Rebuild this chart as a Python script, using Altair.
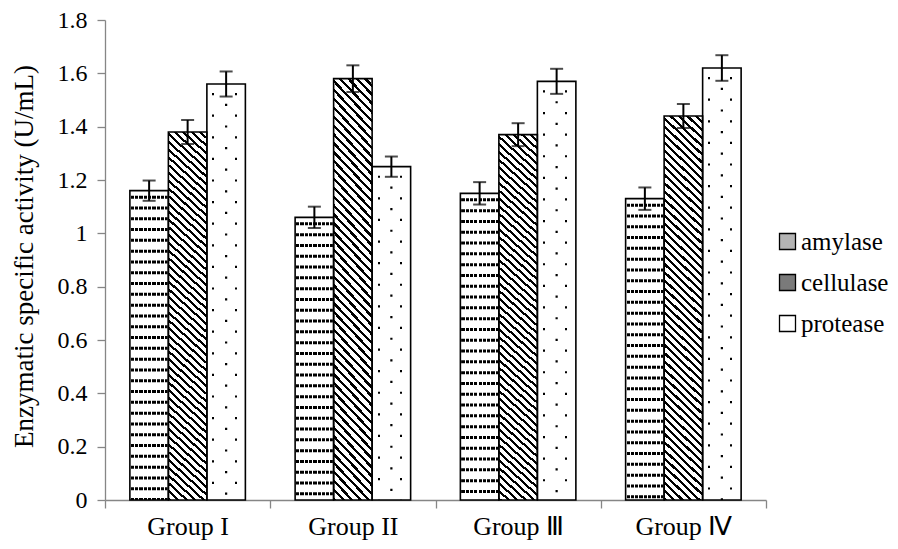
import altair as alt
import pandas as pd

# ---- data ----
groups = ["Group I", "Group II", "Group Ⅲ", "Group Ⅳ"]
enzymes = ["amylase", "cellulase", "protease"]
amylase = [1.16, 1.06, 1.15, 1.13]
cellulase = [1.38, 1.58, 1.37, 1.44]
protease = [1.56, 1.25, 1.57, 1.62]
amylase_err = [0.038, 0.040, 0.042, 0.042]
cellulase_err = [0.045, 0.050, 0.043, 0.045]
protease_err = [0.047, 0.038, 0.047, 0.048]
y_ticks = [0, 0.2, 0.4, 0.6, 0.8, 1, 1.2, 1.4, 1.6, 1.8]

rows = []
for name, vals, errs in [("amylase", amylase, amylase_err),
                         ("cellulase", cellulase, cellulase_err),
                         ("protease", protease, protease_err)]:
    for g, v, e in zip(groups, vals, errs):
        rows.append({"group": g, "enzyme": name, "value": v,
                     "lo": round(v - e, 4), "hi": round(v + e, 4)})
df = pd.DataFrame(rows)

FONT = "Liberation Serif"
GRAY = "#868686"
CLEAR = "rgba(0,0,0,0)"


def stripe_stops(n, frac, on, off=CLEAR):
    stops = []
    for i in range(n):
        a = i / n
        b = (i + frac) / n
        c = (i + 1) / n
        stops += [{"offset": round(a, 5), "color": on},
                  {"offset": round(b, 5), "color": on},
                  {"offset": round(b, 5), "color": off},
                  {"offset": round(c, 5), "color": off}]
    return stops


# diagonal hatch for cellulase, in bounding-box units
r = 10.4
k = (1 + r) / (1 + r * r)
diag_grad = {"gradient": "linear", "x1": 0, "y1": 1, "x2": round(k, 5),
             "y2": round(1 - k * r, 5), "stops": stripe_stops(52, 0.38, "#000000")}

# column mask for the amylase rows (makes them dotted)
amy_mask = {"gradient": "linear", "x1": 0, "y1": 0, "x2": 1, "y2": 0,
            "stops": stripe_stops(9, 0.24, "#ffffff")}

# column mask for protease dots: white except two narrow gaps
pro_mask = {"gradient": "linear", "x1": 0, "y1": 0, "x2": 1, "y2": 0,
            "stops": [{"offset": 0, "color": "#ffffff"},
                      {"offset": 0.14, "color": "#ffffff"},
                      {"offset": 0.14, "color": CLEAR},
                      {"offset": 0.195, "color": CLEAR},
                      {"offset": 0.195, "color": "#ffffff"},
                      {"offset": 0.72, "color": "#ffffff"},
                      {"offset": 0.72, "color": CLEAR},
                      {"offset": 0.775, "color": CLEAR},
                      {"offset": 0.775, "color": "#ffffff"},
                      {"offset": 1, "color": "#ffffff"}]}

x_axis = alt.Axis(title=None, labelAngle=0, labelFont=FONT, labelFontSize=26,
                  labelColor="black", labelPadding=5, tickBand="extent",
                  tickSize=8, tickColor=GRAY, tickWidth=1.3, domainColor=GRAY,
                  domainWidth=1.3, grid=False)
y_axis = alt.Axis(values=y_ticks, format="~g", labelFont=FONT, labelFontSize=24,
                  labelColor="black", labelPadding=10, tickSize=8, tickColor=GRAY,
                  tickWidth=1.3, domainColor=GRAY, domainWidth=1.3, grid=False,
                  titleFont=FONT, titleFontSize=27, titleFontWeight="normal",
                  titleColor="black", titleX=-67, titleY=236, titleAngle=270,
                  titleBaseline="bottom", titleAlign="center")
Y_TITLE = "Enzymatic specific activity (U/mL)"

X = alt.X("group:N", scale=alt.Scale(domain=groups, paddingInner=0, paddingOuter=0),
          axis=x_axis)
XO = alt.XOffset("enzyme:N", scale=alt.Scale(domain=enzymes, paddingInner=0,
                                            paddingOuter=0.646))
y_scale = alt.Scale(domain=[0, 1.8], nice=False, zero=True)


def Y(field):
    return alt.Y(field + ":Q", scale=y_scale, axis=y_axis, title=Y_TITLE)


base = alt.Chart(df)

legend_bars = base.mark_bar(strokeWidth=0).encode(
    x=X, xOffset=XO, y=Y("value"),
    fill=alt.Fill("enzyme:N",
                  scale=alt.Scale(domain=enzymes, range=["#b4b4b4", "#7a7a7a", "#ffffff"]),
                  legend=alt.Legend(title=None, orient="none", legendX=670, legendY=209,
                                    symbolType="square", symbolSize=256,
                                    symbolStrokeColor="black", symbolStrokeWidth=1.3,
                                    symbolOpacity=1, labelFont=FONT, labelFontSize=25,
                                    labelColor="black", rowPadding=15, labelOffset=1,
                                    padding=0, labelLimit=200)))

white_bars = base.mark_bar(fill="white", strokeWidth=0).encode(x=X, xOffset=XO, y=Y("value"))

amy = base.transform_filter("datum.enzyme == 'amylase'")
cel = base.transform_filter("datum.enzyme == 'cellulase'")
pro = base.transform_filter("datum.enzyme == 'protease'")

amy_rows = amy.mark_rule(color="black", strokeWidth=37, strokeCap="butt",
                         strokeDash=[3, 7.8], strokeDashOffset=-5).encode(
    x=X, xOffset=XO, y=Y("value"), y2=alt.datum(0))
amy_mask_bars = amy.mark_bar(fill=amy_mask, strokeWidth=0).encode(x=X, xOffset=XO, y=Y("value"))

cel_bars = cel.mark_bar(fill=diag_grad, strokeWidth=0).encode(x=X, xOffset=XO, y=Y("value"))

pro_rows = pro.mark_rule(color="black", strokeWidth=37, strokeCap="butt",
                         strokeDash=[2.2, 19.4], strokeDashOffset=-9).encode(
    x=X, xOffset=XO, y=Y("value"), y2=alt.datum(0))
pro_mask_bars = pro.mark_bar(fill=pro_mask, strokeWidth=0).encode(x=X, xOffset=XO, y=Y("value"))
pro_mid = pro.mark_rule(color="black", strokeWidth=2.2, strokeCap="butt",
                        strokeDash=[2.2, 19.4], strokeDashOffset=-19.8).encode(
    x=X, xOffset=XO, y=Y("value"), y2=alt.datum(0))

outline = base.mark_bar(fillOpacity=0, stroke="black", strokeWidth=1.6).encode(
    x=X, xOffset=XO, y=Y("value"))

err_rule = base.mark_rule(color="black", strokeWidth=2).encode(
    x=X, xOffset=XO, y=Y("lo"), y2="hi:Q")
cap_hi = base.mark_tick(color="black", thickness=2, size=13).encode(x=X, xOffset=XO, y=Y("hi"))
cap_lo = base.mark_tick(color="black", thickness=2, size=13).encode(x=X, xOffset=XO, y=Y("lo"))

chart = alt.layer(
    legend_bars, white_bars, amy_rows, amy_mask_bars, cel_bars,
    pro_rows, pro_mask_bars, pro_mid, outline, err_rule, cap_hi, cap_lo
).properties(
    width=661, height=480,
    autosize=alt.AutoSizeParams(type="none"),
    padding={"left": 97, "top": 12, "right": 124, "bottom": 41},
    background="white",
).configure_view(strokeWidth=0)

chart.save("out.html", embed_options={"renderer": "svg", "actions": False})
